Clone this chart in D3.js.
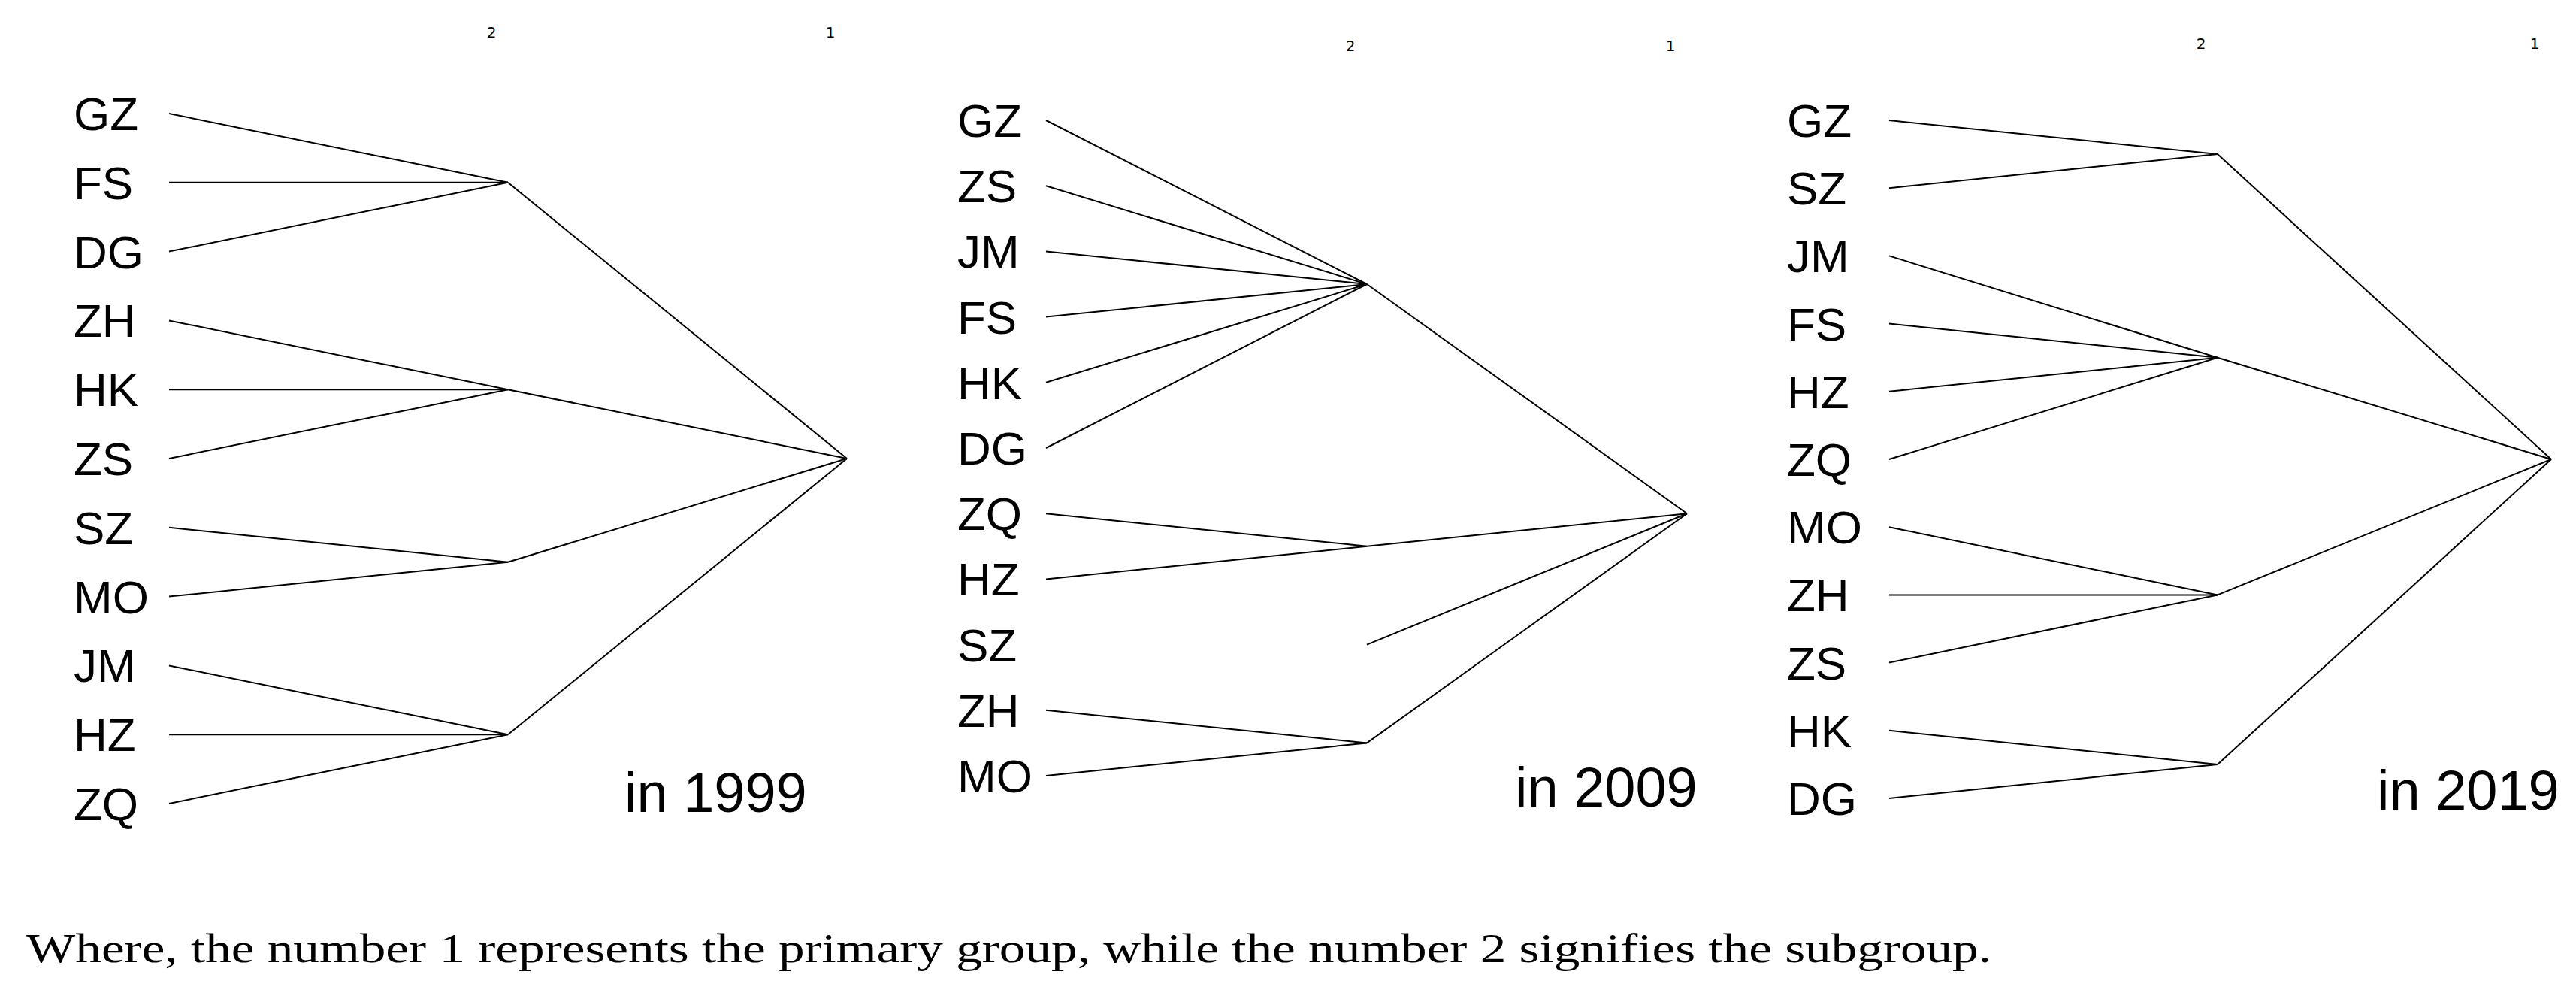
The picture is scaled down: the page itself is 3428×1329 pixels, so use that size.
<!DOCTYPE html>
<html>
<head>
<meta charset="utf-8">
<script src="https://cdn.jsdelivr.net/npm/d3@7"></script>
<style>
  body { margin: 0; background: #fff; }
</style>
</head>
<body>
<script>
// leaf order (top to bottom) for each year
const leaves1999 = ['GZ', 'FS', 'DG', 'ZH', 'HK', 'ZS', 'SZ', 'MO', 'JM', 'HZ', 'ZQ']
const leaves2009 = ['GZ', 'ZS', 'JM', 'FS', 'HK', 'DG', 'ZQ', 'HZ', 'SZ', 'ZH', 'MO']
const leaves2019 = ['GZ', 'SZ', 'JM', 'FS', 'HZ', 'ZQ', 'MO', 'ZH', 'ZS', 'HK', 'DG']

// subgroups (level 2)
const groups1999 = [['GZ', 'FS', 'DG'], ['ZH', 'HK', 'ZS'], ['SZ', 'MO'], ['JM', 'HZ', 'ZQ']]
const groups2009 = [['GZ', 'ZS', 'JM', 'FS', 'HK', 'DG'], ['ZQ', 'HZ'], ['SZ'], ['ZH', 'MO']]
const groups2019 = [['GZ', 'SZ'], ['JM', 'FS', 'HZ', 'ZQ'], ['MO', 'ZH', 'ZS'], ['HK', 'DG']]

// row position of primary group node (level 1)
const rootRow = [5, 6, 5]
const years = ['in 1999', 'in 2009', 'in 2019']
const levelTicks = ['2', '1']

const width = 3428
const height = 1329

const svg = d3.select('body').append('svg')
  .attr('width', width)
  .attr('height', height)

const panels = [
  { leaves: leaves1999, groups: groups1999, top: 151, bottom: 1069, labelX: 98, leafX: 225, subX: 676, rootX: 1127, tickY: 50, yearX: 831, yearY: 1080 },
  { leaves: leaves2009, groups: groups2009, top: 160, bottom: 1032, labelX: 1274, leafX: 1392, subX: 1819, rootX: 2245, tickY: 68, yearX: 2016, yearY: 1073 },
  { leaves: leaves2019, groups: groups2019, top: 160, bottom: 1062, labelX: 2378, leafX: 2514, subX: 2951, rootX: 3395, tickY: 65, yearX: 3163, yearY: 1077 }
]

panels.forEach((p, pi) => {
  const g = svg.append('g')
  const y = d3.scalePoint().domain(p.leaves).range([p.top, p.bottom])
  const rowY = d3.scaleLinear().domain([0, p.leaves.length - 1]).range([p.top, p.bottom])
  const x = d3.scaleOrdinal().domain(['leaf', '2', '1']).range([p.leafX, p.subX, p.rootX])

  const root = { x: x('1'), y: rowY(rootRow[pi]) }
  const subs = p.groups.map(members => ({
    members,
    x: x('2'),
    y: d3.mean(members, m => y(m))
  }))

  // level ticks
  g.selectAll('text.tick')
    .data(levelTicks)
    .join('text')
    .attr('x', d => x(d) - 22)
    .attr('y', p.tickY)
    .attr('text-anchor', 'middle')
    .attr('font-family', 'DejaVu Sans')
    .attr('font-size', 20)
    .text(d => d)

  // leaf labels
  g.selectAll('text.leaf')
    .data(p.leaves)
    .join('text')
    .attr('x', p.labelX)
    .attr('y', d => y(d) + 22)
    .attr('font-family', 'Liberation Sans, Arial, sans-serif')
    .attr('font-size', 62)
    .text(d => d)

  const links = []
  subs.forEach(s => {
    if (s.members.length > 1) {
      s.members.forEach(m => links.push([x('leaf'), y(m), s.x, s.y]))
    }
    links.push([s.x, s.y, root.x, root.y])
  })

  g.selectAll('line')
    .data(links)
    .join('line')
    .attr('x1', d => d[0])
    .attr('y1', d => d[1])
    .attr('x2', d => d[2])
    .attr('y2', d => d[3])
    .attr('stroke', '#000')
    .attr('stroke-width', 2)

  g.append('text')
    .attr('x', p.yearX)
    .attr('y', p.yearY)
    .attr('font-family', 'Liberation Sans, Arial, sans-serif')
    .attr('font-size', 74)
    .text(years[pi])
})

svg.append('text')
  .attr('x', 35)
  .attr('y', 1280)
  .attr('font-family', 'Liberation Serif, serif')
  .attr('font-size', 54)
  .attr('textLength', 2615)
  .attr('lengthAdjust', 'spacingAndGlyphs')
  .text('Where, the number 1 represents the primary group, while the number 2 signifies the subgroup.')
</script>
</body>
</html>
